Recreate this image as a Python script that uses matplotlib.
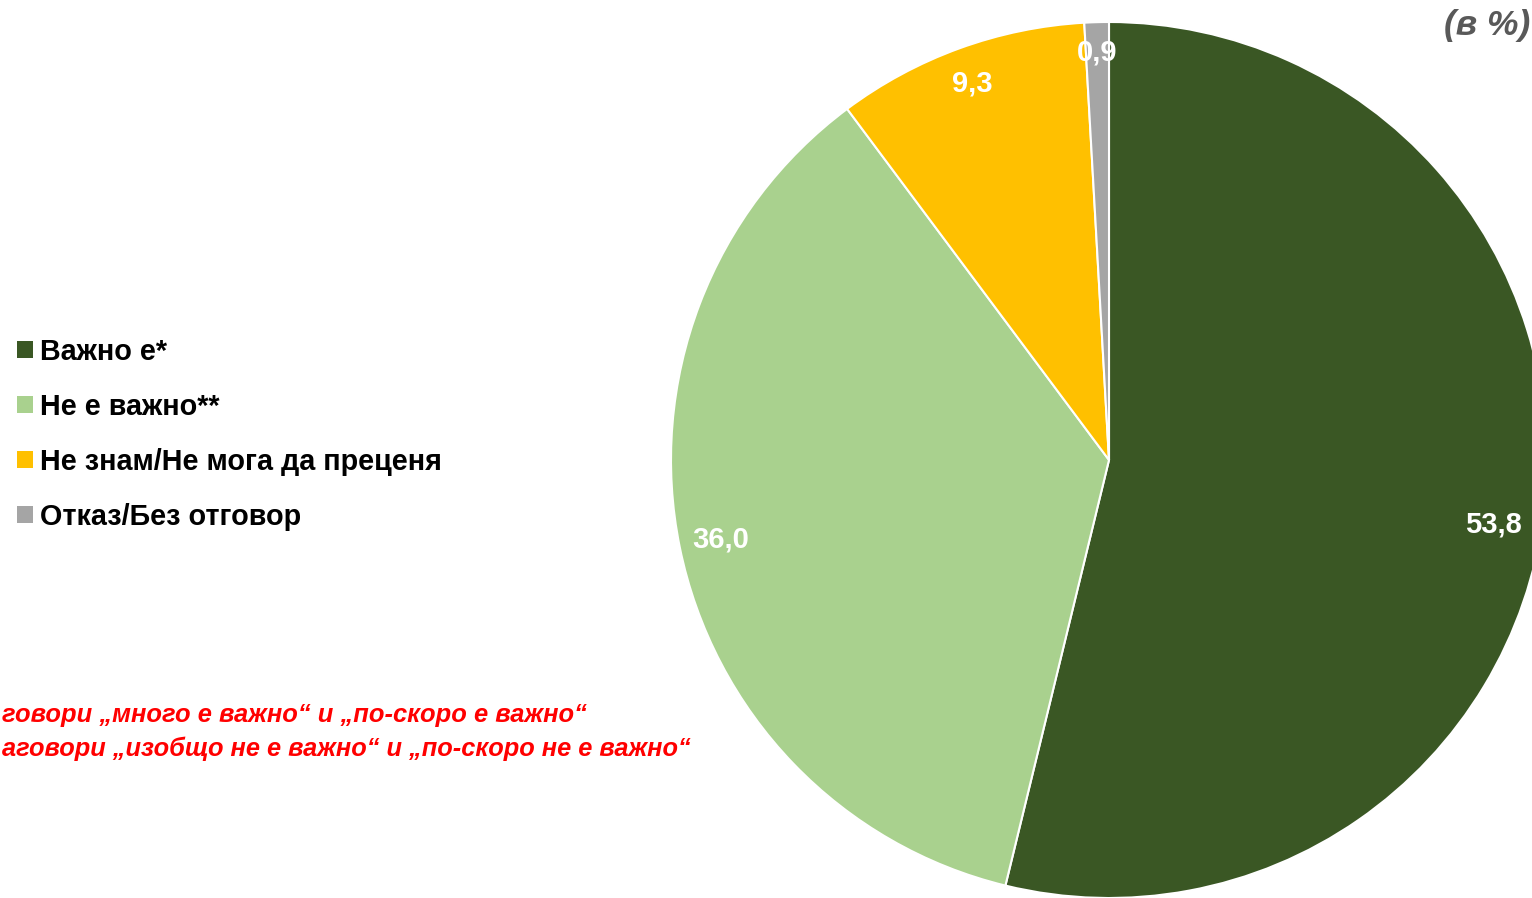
import matplotlib
matplotlib.use("Agg")
import matplotlib.pyplot as plt
from matplotlib.patches import Patch
import numpy as np

plt.rcParams['font.family'] = ['Liberation Sans', 'DejaVu Sans']

categories = ["Важно е*", "Не е важно**", "Не знам/Не мога да преценя", "Отказ/Без отговор"]
values = [53.8, 36.0, 9.3, 0.9]
value_labels = ["53,8", "36,0", "9,3", "0,9"]
colors = ["#3A5724", "#A9D18E", "#FFC000", "#A5A5A5"]
footnotes = ["говори „много е важно“ и „по-скоро е важно“",
             "аговори „изобщо не е важно“ и „по-скоро не е важно“"]
unit_text = "(в %)"

W, H = 1532, 898
fig = plt.figure(figsize=(W / 100, H / 100), dpi=100)

# pie axes: centre (1109, 460) px from top, radius 438 px
cx, cy, r = 1109, 460, 438
ax = fig.add_axes([(cx - r) / W, (H - cy - r) / H, 2 * r / W, 2 * r / H])
wedges, _ = ax.pie(values, colors=colors, startangle=90, counterclock=False,
                   radius=1.0, wedgeprops=dict(edgecolor="white", linewidth=1.5))
ax.set_xlim(-1, 1)
ax.set_ylim(-1, 1)
ax.set_aspect("equal")
ax.axis("off")

label_dist = [0.89, 0.905, 0.915, 0.93]
label_nudge_deg = [-2.7, 0.0, 0.0, 0.0]
for w, lab, d, nd in zip(wedges, value_labels, label_dist, label_nudge_deg):
    ang = np.deg2rad((w.theta1 + w.theta2) / 2 + nd)
    ax.text(d * np.cos(ang), d * np.sin(ang), lab, ha="center", va="center",
            color="white", fontsize=21, fontweight="bold")

handles = [Patch(facecolor=c, edgecolor="none") for c in colors]
fig.legend(handles, categories, loc="upper left", bbox_to_anchor=(-9 / W, 1 - 312 / H),
           frameon=False, handlelength=0.55, handleheight=0.55,
           handletextpad=0.25, labelspacing=0.94,
           prop=dict(family=['Liberation Sans', 'DejaVu Sans'], weight="bold", size=20.7))

fig.text(2 / W, 1 - 715 / H, footnotes[0], ha="left", va="center",
         color="#FF0000", fontsize=18.4, fontweight="bold", fontstyle="italic")
fig.text(2 / W, 1 - 749 / H, footnotes[1], ha="left", va="center",
         color="#FF0000", fontsize=18.3, fontweight="bold", fontstyle="italic")

fig.text(1530 / W, 1 - 25 / H, unit_text, ha="right", va="center",
         color="#595959", fontsize=25.5, fontweight="bold", fontstyle="italic")

fig.savefig("out.png", dpi=100)
